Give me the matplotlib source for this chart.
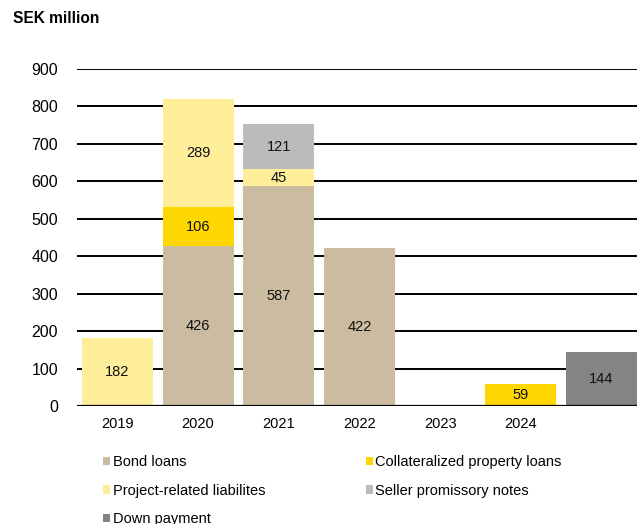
import numpy as np
import matplotlib.pyplot as plt
from matplotlib.patches import Patch

plt.rcParams['font.family'] = ['Liberation Sans', 'DejaVu Sans']

years = ['2019', '2020', '2021', '2022', '2023', '2024', '']
bond_loans = [0, 426, 587, 422, 0, 0, 0]
collateralized = [0, 106, 0, 0, 0, 59, 0]
project_related = [182, 289, 45, 0, 0, 0, 0]
seller_notes = [0, 0, 121, 0, 0, 0, 0]
down_payment = [0, 0, 0, 0, 0, 0, 144]

# stacking order bottom -> top (2020: bond, collateralized, project; 2021: bond, project, seller)
series = [
    ('Bond loans', bond_loans, '#CBBBA0'),
    ('Collateralized property loans', collateralized, '#FFD700'),
    ('Project-related liabilites', project_related, '#FFEE99'),
    ('Seller promissory notes', seller_notes, '#BBBBBB'),
    ('Down payment', down_payment, '#848484'),
]

fig = plt.figure(figsize=(6.37, 5.24), dpi=100)
ax = fig.add_axes([0.121, 0.2252, 0.879, 0.6431])

x = np.arange(len(years))
bottom = np.zeros(len(years))
handles = {}
for name, vals, col in series:
    vals = np.array(vals, dtype=float)
    ax.bar(x, vals, width=0.88, bottom=bottom, color=col, zorder=2)
    for xi, v, b in zip(x, vals, bottom):
        if v > 0:
            ax.text(xi, b + v / 2, f'{int(v)}', ha='center', va='center',
                    fontsize=10.5, color='#111111', zorder=4)
    bottom += vals
    handles[name] = Patch(facecolor=col)

ax.set_xlim(-0.5, 6.44)
ax.set_ylim(0, 900)
ax.set_yticks(range(0, 901, 100))
ax.yaxis.grid(True, color='black', linewidth=1.4, zorder=0)
ax.set_axisbelow(True)
ax.axhline(0, color='black', linewidth=1.6, zorder=3)
for s in ax.spines.values():
    s.set_visible(False)
ax.tick_params(axis='both', length=0)
ax.tick_params(axis='y', pad=13.7, labelsize=11.5)
ax.tick_params(axis='x', pad=8, labelsize=10.5)
ax.set_xticks(x)
ax.set_xticklabels(years)

fig.text(0.02, 0.964, 'SEK million', fontsize=11.2, fontweight='bold', ha='left', va='center')

# two-column legend filled row by row
order = ['Bond loans', 'Project-related liabilites', 'Down payment',
         'Collateralized property loans', 'Seller promissory notes']
fig.legend([handles[n] for n in order], order, ncol=2, loc='upper left',
           bbox_to_anchor=(0.162, 0.1316), frameon=False, fontsize=10.5,
           handlelength=0.5, handleheight=0.5, handletextpad=0.15,
           columnspacing=6.9, labelspacing=1.0, borderaxespad=0, borderpad=0)

fig.savefig('out.png', dpi=100)
